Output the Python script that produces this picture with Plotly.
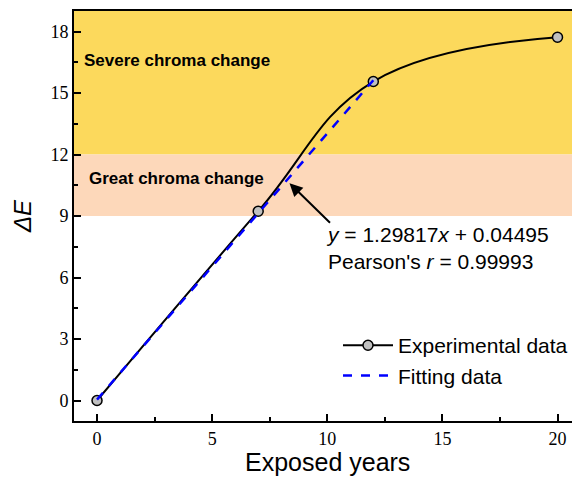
import plotly.graph_objects as go

# Measured colour difference (ΔE) versus years of outdoor exposure
years = [0, 7, 12, 20]
delta_e = [0, 9.23, 15.56, 17.72]

# Linear fit over the first 12 years
fit_slope = 1.29817
fit_intercept = 0.04495
fit_x = [0, 12]
fit_y = [fit_slope * x + fit_intercept for x in fit_x]

# Chroma-change bands (lower, upper)
great_band = (9, 12)
severe_band = (12, 19)

x_ticks = [0, 5, 10, 15, 20]
y_ticks = [0, 3, 6, 9, 12, 15, 18]

SANS = "Liberation Sans"
SERIF = "Liberation Serif"

fig = go.Figure()

fig.add_trace(go.Scatter(
    x=years, y=delta_e, mode="lines+markers", name="Experimental data",
    line=dict(color="black", width=2, shape="spline", smoothing=1.15),
    marker=dict(size=10, color="#C0C0C0", line=dict(color="black", width=1.5)),
))
fig.add_trace(go.Scatter(
    x=fit_x, y=fit_y, mode="lines", name="Fitting data",
    line=dict(color="#0000FF", width=2.5, dash="dash"),
))

fig.add_hrect(y0=severe_band[0], y1=severe_band[1], fillcolor="#FCD95C",
              line_width=0, layer="below")
fig.add_hrect(y0=great_band[0], y1=great_band[1], fillcolor="#FDD8BA",
              line_width=0, layer="below")

fig.add_annotation(x=-0.66, y=16.6, text="<b>Severe chroma change</b>",
                   showarrow=False, xanchor="left", yanchor="middle",
                   font=dict(family=SANS, size=17, color="black"))
fig.add_annotation(x=-0.44, y=10.83, text="<b>Great chroma change</b>",
                   showarrow=False, xanchor="left", yanchor="middle",
                   font=dict(family=SANS, size=17, color="black"))

# Arrow pointing at the fitted line
fig.add_annotation(x=8.36, y=10.6, text="", showarrow=True,
                   ax=42, ay=41, arrowhead=2, arrowsize=1.3, arrowwidth=2,
                   arrowcolor="black")
fig.add_annotation(x=9.86, y=7.45,
                   text="<i>y</i> = 1.29817<i>x</i> + 0.04495<br>Pearson's <i>r</i> = 0.99993",
                   showarrow=False, xanchor="left", yanchor="middle", align="left",
                   font=dict(family=SANS, size=21, color="black"))

# x-axis title, centred on the full frame width
fig.add_annotation(x=10.0, y=-0.101, xref="x", yref="paper", text="Exposed years",
                   showarrow=False, xanchor="center", yanchor="middle",
                   font=dict(family=SANS, size=25, color="black"))

axis_common = dict(
    showline=True, linecolor="black", linewidth=2,
    ticks="inside", ticklen=7, tickwidth=1.8, tickcolor="black",
    showgrid=False, zeroline=False,
    tickfont=dict(family=SERIF, size=18, color="black"),
    minor=dict(ticks="inside", ticklen=4, tickwidth=1.5, tickcolor="black"),
)

fig.update_xaxes(range=[-1, 20.63], tickvals=x_ticks, mirror=True, **axis_common)
fig.update_xaxes(minor=dict(dtick=2.5, tick0=0))
fig.update_yaxes(range=[-1, 19], tickvals=y_ticks,
                 title=dict(text="<i>ΔE</i>", standoff=12,
                            font=dict(family=SANS, size=24, color="black")),
                 **axis_common)
fig.update_yaxes(minor=dict(dtick=1.5, tick0=0))

fig.update_layout(
    width=573, height=477,
    margin=dict(l=74, r=0, t=11, b=56),
    plot_bgcolor="white", paper_bgcolor="white",
    legend=dict(x=0.53, y=0.234, xanchor="left", yanchor="top",
                bgcolor="rgba(0,0,0,0)", itemwidth=50,
                font=dict(family=SANS, size=21, color="black"),
                tracegroupgap=0),
)

fig.write_html("out.html")
